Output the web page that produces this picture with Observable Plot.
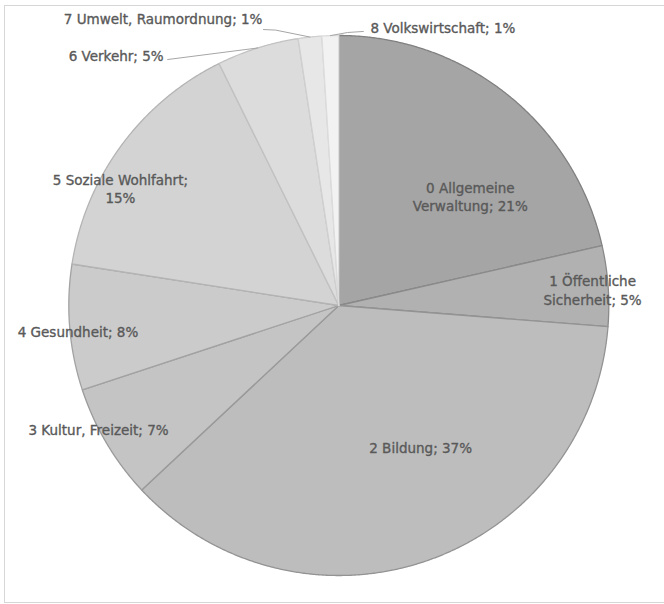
<!DOCTYPE html>
<html>
<head>
<meta charset="utf-8">
<script src="https://cdn.jsdelivr.net/npm/d3@7"></script>
<script src="https://cdn.jsdelivr.net/npm/@observablehq/plot@0.6"></script>
<style>
  html, body { margin: 0; padding: 0; background: #fff; }
  #wrap { position: relative; width: 664px; height: 604px; overflow: hidden; }
  #frame { position: absolute; left: 4px; top: 5px; width: 700px; height: 596px;
           border: 1px solid #d6d6d6; pointer-events: none; }
</style>
</head>
<body>
<div id="wrap"><div id="chart"></div><div id="frame"></div></div>
<script>
// ---- data ----
const categories = ["0 Allgemeine Verwaltung", "1 Öffentliche Sicherheit", "2 Bildung",
  "3 Kultur, Freizeit", "4 Gesundheit", "5 Soziale Wohlfahrt", "6 Verkehr",
  "7 Umwelt, Raumordnung", "8 Volkswirtschaft"];
const shares = [21.4, 4.8, 36.7, 6.9, 7.5, 15.2, 4.9, 1.4, 1.0];
const labelTexts = ["0 Allgemeine\nVerwaltung; 21%", "1 Öffentliche\nSicherheit; 5%",
  "2 Bildung; 37%", "3 Kultur, Freizeit; 7%", "4 Gesundheit; 8%",
  "5 Soziale Wohlfahrt;\n15%", "6 Verkehr; 5%", "7 Umwelt, Raumordnung; 1%",
  "8 Volkswirtschaft; 1%"];

// ---- styles ----
const fills = ["#a5a5a5", "#b1b1b1", "#bdbdbd", "#c4c4c4", "#cbcbcb", "#d3d3d3", "#dcdcdc", "#e7e7e7", "#f2f2f2"];
const edges = ["#808080", "#8a8a8a", "#939393", "#9a9a9a", "#a2a2a2", "#b4b4b4", "#c2c2c2", "#d0d0d0", "#dcdcdc"];

// ---- label layout (pie units: radius 1, centre origin, y up) ----
const labelPos = [[0.487, 0.406], [0.940, 0.059], [0.303, -0.526], [-0.890, -0.456],
  [-0.966, -0.093], [-0.809, 0.435], [-0.649, 0.926], [-0.283, 1.063], [0.117, 1.033]];
const labelAnchor = ["middle", "middle", "middle", "middle", "middle", "middle", "end", "end", "start"];
const leaderPts = {6: [[-0.634, 0.911]], 7: [[-0.234, 1.020], [-0.279, 1.022]], 8: [[0.032, 1.011], [0.091, 1.015]]};

// ---- build geometry from data ----
const arcs = d3.pie().sort(null).value(d => d)(shares);
const slicePolys = arcs.map((a, i) => {
  const pts = [{u: 0, v: 0}];
  const n = Math.max(4, Math.ceil((a.endAngle - a.startAngle) / 0.005));
  for (let k = 0; k <= n; k++) {
    const t = a.startAngle + (a.endAngle - a.startAngle) * k / n;
    pts.push({u: Math.sin(t), v: Math.cos(t)});
  }
  pts.push({u: 0, v: 0});
  return pts;
});
const labels = labelTexts.map((t, i) => ({text: t, u: labelPos[i][0], v: labelPos[i][1], anchor: labelAnchor[i]}));
const leaders = [];
Object.entries(leaderPts).forEach(([i, pts]) => {
  const a = arcs[+i];
  const m = (a.startAngle + a.endAngle) / 2;
  leaders.push({id: i, u: Math.sin(m), v: Math.cos(m)});
  pts.forEach(p => leaders.push({id: i, u: p[0], v: p[1]}));
});

const marks = [];
slicePolys.forEach((pts, i) => {
  marks.push(Plot.line(pts, {x: "u", y: "v", fill: fills[i], stroke: edges[i], strokeWidth: 1.3, strokeLinejoin: "round"}));
});
marks.push(Plot.line(leaders, {x: "u", y: "v", z: "id", stroke: "#a6a6a6", strokeWidth: 1}));
["start", "middle", "end"].forEach(anc => {
  marks.push(Plot.text(labels.filter(d => d.anchor === anc), {
    x: "u", y: "v", text: "text", textAnchor: anc, lineHeight: 1.38,
    fill: "#595959", stroke: "#595959", strokeWidth: 0.35, fontSize: 13.5
  }));
});

const chart = Plot.plot({
  width: 664, height: 604,
  marginTop: 0, marginRight: 0, marginBottom: 0, marginLeft: 0,
  x: {domain: [-1.2530, 1.2063], axis: null},
  y: {domain: [-1.1074, 1.1296], axis: null},
  style: {background: "#fff", fontFamily: "'DejaVu Sans', sans-serif", overflow: "visible"},
  marks
});
document.getElementById("chart").appendChild(chart);
</script>
</body>
</html>
